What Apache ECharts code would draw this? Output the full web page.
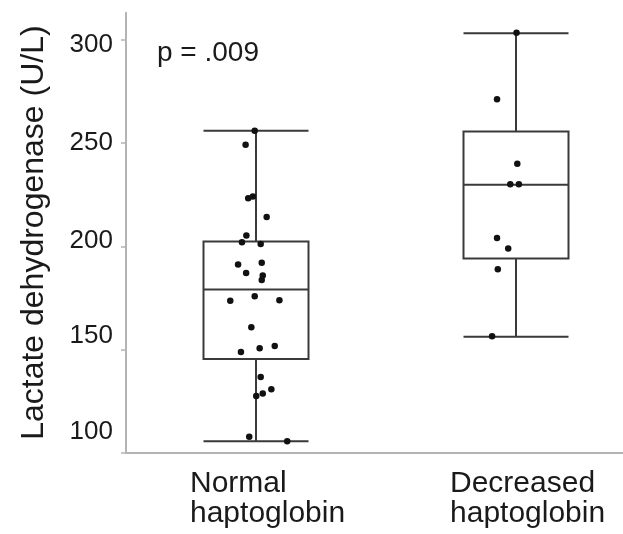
<!DOCTYPE html>
<html>
<head>
<meta charset="utf-8">
<script src="https://cdn.jsdelivr.net/npm/echarts@6/dist/echarts.min.js"></script>
<style>
  html, body { margin: 0; padding: 0; background: #ffffff; }
  #chart { width: 623px; height: 534px; }
</style>
</head>
<body>
<div id="chart"></div>
<script>
// groups on the x axis
var categories = ['Normal\nhaptoglobin', 'Decreased\nhaptoglobin'];
// [min, Q1, median, Q3, max]
var normalBox = [105.4, 145.4, 179.0, 202.3, 256.0];
var decreasedBox = [156.1, 194.1, 229.9, 255.7, 303.3];
// individual patients (LDH, U/L) and their horizontal jitter (in group units)
var normalValues = [256.0, 249.2, 223.3, 224.1, 214.2, 205.3, 202.0, 201.1, 191.2, 192.0, 187.1, 185.8, 183.7,
  173.6, 175.8, 173.8, 160.7, 148.7, 150.6, 151.6, 136.6, 127.4, 128.6, 130.7, 107.6, 105.4];
var normalJitter = [-0.005, -0.040, -0.030, -0.012, 0.041, -0.037, -0.054, 0.018, -0.069, 0.022, -0.038, 0.026, 0.022,
  -0.099, -0.005, 0.090, -0.018, -0.058, 0.014, 0.072, 0.018, 0.001, 0.026, 0.059, -0.026, 0.120];
var decreasedValues = [303.6, 271.3, 240.1, 230.1, 230.1, 204.0, 198.9, 188.9, 156.4];
var decreasedJitter = [0.002, -0.073, 0.005, -0.022, 0.011, -0.073, -0.030, -0.070, -0.092];
var yTicks = [100, 150, 200, 250, 300];
var pText = 'p = .009';

var chart = echarts.init(document.getElementById('chart'));

var points = [];
normalValues.forEach(function (v, i) { points.push([0 + normalJitter[i], v]); });
decreasedValues.forEach(function (v, i) { points.push([1 + decreasedJitter[i], v]); });

var axisGray = '#b4b4b4';
var lineDark = '#3a3a3a';
var textColor = '#1a1a1a';
var font = 'Liberation Sans, Arial, sans-serif';
var yMin = 100, yMax = 313.3;

// the original tick labels sit a little off their ticks
var labelShift = { 300: [10, 0], 250: [0, 0], 200: [0, 10], 150: [0, 28], 100: [0, 42] };
var rich = {};
yTicks.forEach(function (t) {
  rich['v' + t] = {
    fontSize: 26, fontFamily: font, color: textColor,
    padding: [labelShift[t][0], 0, labelShift[t][1], 0]
  };
});

var option = {
  animation: false,
  backgroundColor: '#ffffff',
  grid: [
    // axes, labels and dots
    { left: 126, top: 12.7, bottom: 81.5, right: 0 },
    // boxes: group centres at the two ends
    { left: 256, top: 12.7, bottom: 81.5, right: 107 }
  ],
  xAxis: [
    {
      type: 'value',
      gridIndex: 0,
      min: -0.5,
      max: 1.4115,
      axisLine: { show: true, onZero: false, lineStyle: { color: axisGray, width: 2 } },
      axisTick: { show: false },
      axisLabel: {
        margin: 16,
        padding: [0, 0, 0, 23],
        customValues: [0, 1],
        formatter: function (v) {
          return categories[Math.round(v)].split('\n').map(function (s) { return '{c|' + s + '}'; }).join('\n');
        },
        rich: {
          c: { width: 155, align: 'left', fontSize: 30, lineHeight: 30, fontFamily: font, color: textColor }
        }
      },
      splitLine: { show: false }
    },
    {
      type: 'category',
      gridIndex: 1,
      data: categories,
      boundaryGap: false,
      show: false
    }
  ],
  yAxis: [
    {
      type: 'value',
      gridIndex: 0,
      min: yMin,
      max: yMax,
      name: 'Lactate dehydrogenase (U/L)',
      nameLocation: 'middle',
      nameRotate: 90,
      nameGap: 76,
      nameTextStyle: { fontSize: 32, fontFamily: font, color: textColor },
      axisLine: { show: true, onZero: false, lineStyle: { color: axisGray, width: 2 } },
      axisTick: { show: true, length: 5, customValues: yTicks, lineStyle: { color: axisGray, width: 1.5 } },
      axisLabel: {
        margin: 13,
        customValues: yTicks,
        formatter: function (v) { return '{v' + v + '|' + v + '}'; },
        rich: rich
      },
      splitLine: { show: false }
    },
    {
      type: 'value',
      gridIndex: 1,
      min: yMin,
      max: yMax,
      show: false,
      splitLine: { show: false }
    }
  ],
  graphic: [
    {
      type: 'text',
      left: 157,
      top: 39,
      style: { text: pText, fontSize: 28, fontFamily: font, fill: textColor }
    }
  ],
  series: [
    {
      type: 'boxplot',
      xAxisIndex: 1,
      yAxisIndex: 1,
      data: [normalBox, decreasedBox],
      boxWidth: [105, 105],
      itemStyle: { color: 'transparent', borderColor: lineDark, borderWidth: 2 },
      emphasis: { disabled: true }
    },
    {
      type: 'scatter',
      xAxisIndex: 0,
      yAxisIndex: 0,
      data: points,
      symbolSize: 6.5,
      itemStyle: { color: '#111111', opacity: 1 },
      z: 5
    }
  ]
};

chart.setOption(option);
</script>
</body>
</html>
